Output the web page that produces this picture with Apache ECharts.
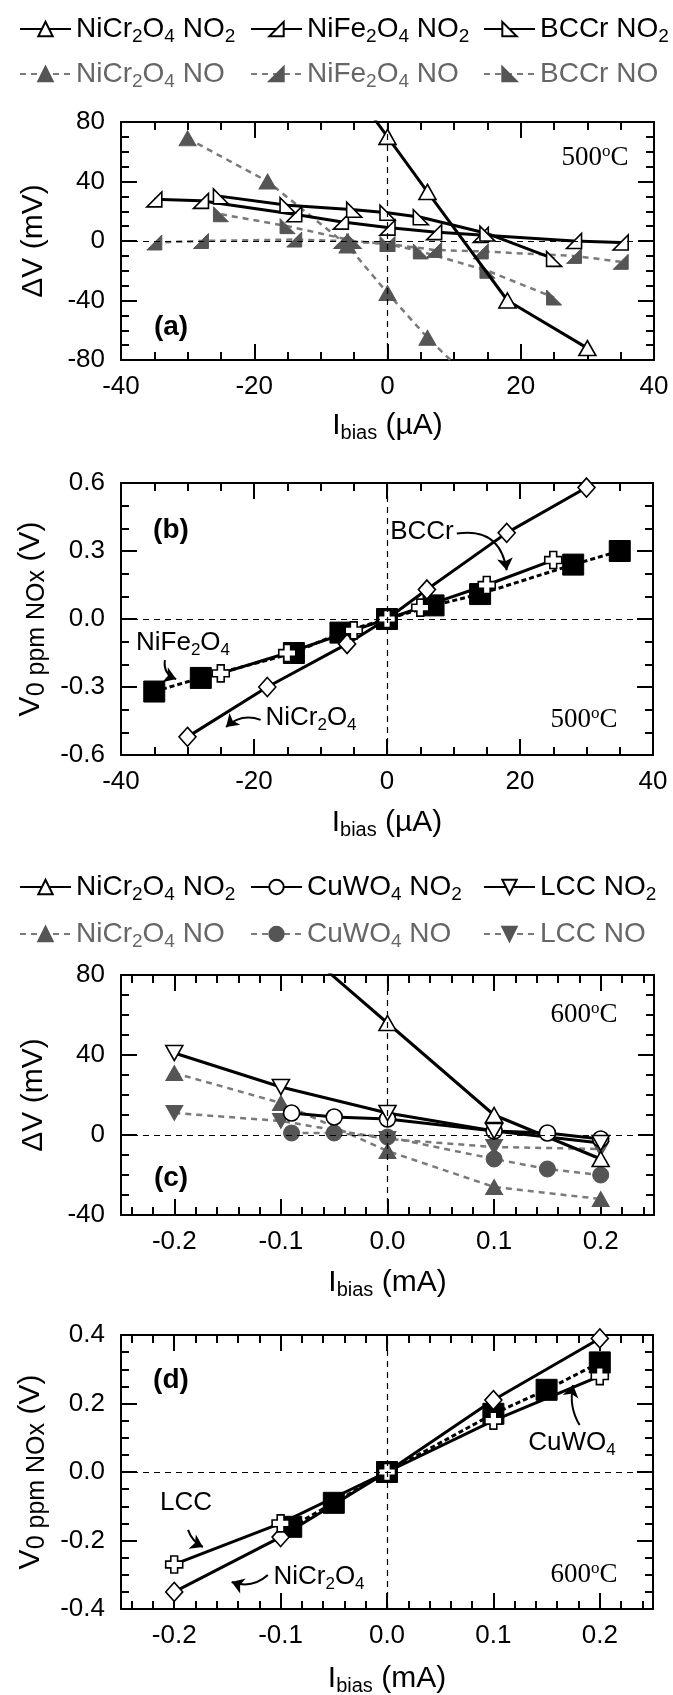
<!DOCTYPE html>
<html>
<head>
<meta charset="utf-8">
<script src="https://cdn.jsdelivr.net/npm/echarts@6/dist/echarts.min.js"></script>
<style>
  html, body { margin: 0; padding: 0; background: #fff; }
  #chart { width: 673px; height: 1695px; }
</style>
</head>
<body>
<div id="chart"></div>
<script>
// (a) 500 oC, delta V (mV) vs Ibias (uA)
const aNiCrNO2X = [-6, 0, 6, 18, 30];
const aNiCrNO2 = [107, 70, 33, -40, -72];
const aNiCrNOX = [-30, -18, -6, 0, 6, 18];
const aNiCrNO = [69, 40, -3, -35, -65, -117];
const aNiFeX = [-35, -28, -14, -7, 0, 7, 14, 28, 35];
const aNiFeNO2 = [28, 27, 18, 13, 9, 6, 4, 0, -1];
const aNiFeNO = [-1, 0, 1, 0, -2, -6, -7, -10, -14];
const aBCCrX = [-25, -15, -5, 0, 5, 15, 25];
const aBCCrNO2 = [30, 24, 21, 19, 16, 5, -12];
const aBCCrNO = [18, 10, 0, -2, -7, -20, -38];

// (b) 500 oC, V at 0 ppm NOx (V)
const bNiCrX = [-30, -18, -6, 0, 6, 18, 30];
const bNiCr = [-0.52, -0.30, -0.11, 0, 0.13, 0.38, 0.58];
const bNiFe = [-0.32, -0.26, -0.15, -0.06, 0, 0.06, 0.11, 0.24, 0.30];
const bBCCr = [-0.24, -0.15, -0.05, 0, 0.05, 0.15, 0.26];

// (c) 600 oC, delta V (mV) vs Ibias (mA)
const cNiCrNO2X = [-0.1, 0, 0.1, 0.2];
const cNiCrNO2 = [102, 56, 10, -12];
const cNiCrNOX = [-0.2, -0.1, 0, 0.1, 0.2];
const cNiCrNO = [31, 16, -8, -26, -32];
const cCuX = [-0.09, -0.05, 0, 0.1, 0.15, 0.2];
const cCuNO2 = [11, 9, 8, 2, 1, -2];
const cCuNO = [1, 1, -1, -12, -17, -20];
const cLCCX = [-0.2, -0.1, 0, 0.1, 0.2];
const cLCCNO2 = [41, 24, 11, 2, -4];
const cLCCNO = [11, 7, -2, -6, -7];

// (d) 600 oC, V at 0 ppm NOx (V)
const dNiCrX = [-0.2, -0.1, 0, 0.1, 0.2];
const dNiCr = [-0.35, -0.19, 0, 0.21, 0.39];
const dCu = [-0.16, -0.09, 0, 0.17, 0.24, 0.32];
const dLCC = [-0.27, -0.15, 0, 0.15, 0.28];

// tick labels
const uATicks = [-40, -20, 0, 20, 40];
const mATicks = [-0.2, -0.1, 0, 0.1, 0.2];
const mVTicksA = [-80, -40, 0, 40, 80];
const voltTicksB = [-0.6, -0.3, 0, 0.3, 0.6];
const mVTicksC = [-40, 0, 40, 80];
const voltTicksD = [-0.4, -0.2, 0, 0.2, 0.4];

const FONT = 'Liberation Sans';
const SERIF = 'Liberation Serif';
const TRI_R = 'path://M10,0L10,10L0,10Z';
const TRI_L = 'path://M0,0L0,10L10,10Z';
const TRI_D = 'path://M0,0L10,0L5,9Z';
const CROSS = 'path://M3,0H7V3H10V7H7V10H3V7H0V3H3Z';

function steps(from, to, step) {
  const out = [];
  for (let v = from; v <= to + step / 2; v += step) out.push(Math.round(v * 1e6) / 1e6);
  return out;
}

// panel frames: grid box, axis ranges and tick positions
const panels = [
  {grid: {left: 121, top: 122, width: 533, height: 238}, x: [-40, 40], y: [-80, 80],
    xMajor: uATicks, xMinor: steps(-40, 40, 5), yMajor: mVTicksA, yMinor: steps(-80, 80, 10)},
  {grid: {left: 121, top: 483, width: 532, height: 272}, x: [-40, 40], y: [-0.6, 0.6],
    xMajor: uATicks, xMinor: steps(-40, 40, 5), yMajor: voltTicksB, yMinor: steps(-0.6, 0.6, 0.1)},
  {grid: {left: 121, top: 975, width: 533, height: 240}, x: [-0.25, 0.25], y: [-40, 80],
    xMajor: mATicks, xMinor: steps(-0.24, 0.24, 0.02), yMajor: mVTicksC, yMinor: steps(-40, 80, 10)},
  {grid: {left: 121, top: 1335, width: 532, height: 274}, x: [-0.25, 0.25], y: [-0.4, 0.4],
    xMajor: mATicks, xMinor: steps(-0.24, 0.24, 0.02), yMajor: voltTicksD, yMinor: steps(-0.4, 0.4, 0.05)},
];

const frameLine = () => ({color: '#000', width: 2});
const nameStyle = () => ({
  fontSize: 30, fontFamily: FONT, color: '#000',
  rich: {
    s: {fontSize: 20, fontFamily: FONT, color: '#000', padding: [15, 0, 0, 0]},
    b: {fontSize: 25, fontFamily: FONT, color: '#000', padding: [12, 0, 0, 0]},
  },
});

function axis(grid, pos, range) {
  return {
    type: 'value', gridIndex: grid, position: pos, min: range[0], max: range[1],
    splitLine: {show: false},
    axisLine: {show: true, onZero: false, lineStyle: frameLine()},
    axisTick: {show: false},
    axisLabel: {show: false},
  };
}
function axes(dim, grid, labels, fmt, name, gap) {
  const [near, far] = dim === 'x' ? ['bottom', 'top'] : ['left', 'right'];
  const range = panels[grid][dim];
  const main = axis(grid, near, range);
  main.axisLabel = {customValues: labels.slice(), formatter: fmt, margin: dim === 'x' ? 14 : 16,
    fontSize: 26, fontFamily: FONT, color: '#000'};
  Object.assign(main, {name: name, nameLocation: 'middle', nameGap: gap, nameTextStyle: nameStyle()});
  return [main, axis(grid, far, range)];
}

// inward tick marks on all four sides, drawn as short segments
function frameTicks(i) {
  const p = panels[i];
  const [x0, x1] = p.x, [y0, y1] = p.y;
  const dx = px => px * (x1 - x0) / p.grid.width;
  const dy = px => px * (y1 - y0) / p.grid.height;
  const segs = [];
  const xt = (v, len) => {
    segs.push([[v, y0], [v, y0 + dy(len)]], [[v, y1], [v, y1 - dy(len)]]);
  };
  const yt = (v, len) => {
    segs.push([[x0, v], [x0 + dx(len), v]], [[x1, v], [x1 - dx(len), v]]);
  };
  p.xMinor.forEach(v => xt(v, 8));
  p.xMajor.forEach(v => xt(v, 16));
  p.yMinor.forEach(v => yt(v, 8));
  p.yMajor.forEach(v => yt(v, 16));
  return {
    type: 'lines', coordinateSystem: 'cartesian2d', xAxisIndex: i * 2, yAxisIndex: i * 2,
    silent: true, z: 1, symbol: ['none', 'none'],
    lineStyle: {color: '#000', width: 2, opacity: 1, type: 'solid', curveness: 0},
    data: segs.map(s => ({coords: s})),
  };
}

const plain = v => String(v);
const oneDec = v => v.toFixed(1);
const uAName = 'I{s|bias} (µA)';
const mAName = 'I{s|bias} (mA)';
const dVName = 'ΔV (mV)';
const v0Name = 'V{b|0 ppm NOx} (V)';

const black = () => ({
  lineStyle: {color: '#000', width: 3},
  itemStyle: {color: '#fff', borderColor: '#000', borderWidth: 1.6}, z: 4,
});
const blackDash = () => ({
  lineStyle: {color: '#000', width: 3, type: [5, 3]},
  itemStyle: {color: '#000', borderColor: '#000', borderWidth: 1}, z: 3,
});
const gray = () => ({
  lineStyle: {color: '#7a7a7a', width: 2.5, type: [6, 5]},
  itemStyle: {color: '#555', borderColor: '#555', borderWidth: 1}, z: 2,
});

const zeroLines = () => ({
  silent: true, symbol: ['none', 'none'], label: {show: false},
  lineStyle: {color: '#000', width: 1.2, type: [6, 5]},
  data: [{yAxis: 0}, {xAxis: 0}],
});

function line(name, grid, xs, ys, style, extra) {
  return Object.assign({
    type: 'line', name: name, xAxisIndex: grid * 2, yAxisIndex: grid * 2, clip: true,
    data: xs.map((x, i) => [x, ys[i]]),
  }, style(), extra);
}

// curved pointer arrows for the labels in (b) and (d): [from, to, curveness]
const bArrows = [
  [[10.5, 0.377], [18, 0.215], 0.5],
  [[-33.4, -0.181], [-31.7, -0.265], -0.4],
  [[-19, -0.445], [-24.2, -0.476], -0.3],
];
const dArrows = [
  [[-0.187, -0.169], [-0.173, -0.219], -0.2],
  [[-0.112, -0.301], [-0.146, -0.321], 0.3],
  [[0.181, 0.137], [0.175, 0.254], 0.2],
];
function arrows(grid, list) {
  return {
    type: 'lines', coordinateSystem: 'cartesian2d', xAxisIndex: grid * 2, yAxisIndex: grid * 2,
    silent: true, z: 6, symbol: ['none', 'arrow'], symbolSize: 12,
    lineStyle: {color: '#000', width: 2, opacity: 1, type: 'solid'},
    data: list.map(a => ({coords: [a[0], a[1]], lineStyle: {curveness: a[2]}})),
  };
}

const sub = n => n.replace(/(\d)/g, '{s|$1}');
function legendItem(name, left, top, color) {
  return {
    data: [name], left: left, top: top, padding: 0, itemWidth: 51, itemHeight: 18,
    selectedMode: false, formatter: sub,
    textStyle: {fontSize: 28, fontFamily: FONT, color: color,
      rich: {s: {fontSize: 19, fontFamily: FONT, color: color, padding: [16, 0, 0, 0]}}},
  };
}
function legendRow(names, center, color) {
  return names.map((n, i) => legendItem(n, [19, 250, 483][i], center - 17, color));
}

function text(str, x, y, style) {
  return {
    type: 'text', x: x, y: y, z: 10,
    style: Object.assign({
      text: str, fill: '#000', fontSize: 26, fontFamily: FONT,
      align: 'center', verticalAlign: 'middle', textAlign: 'center', textVerticalAlign: 'middle',
      rich: {
        s: {fontSize: 17, fontFamily: FONT, padding: [14, 0, 0, 0]},
        o: {fontSize: 17, fontFamily: SERIF, padding: [0, 0, 12, 0]},
      },
    }, style),
  };
}
const bold = {fontSize: 28, fontWeight: 'bold'};
const serif = {fontSize: 27, fontFamily: SERIF};

const option = {
  animation: false,
  backgroundColor: '#fff',
  grid: panels.map(p => ({...p.grid, outerBoundsMode: 'none'})),
  xAxis: [
    ...axes('x', 0, uATicks, plain, uAName, 48),
    ...axes('x', 1, uATicks, plain, uAName, 50),
    ...axes('x', 2, mATicks, oneDec, mAName, 50),
    ...axes('x', 3, mATicks, oneDec, mAName, 52),
  ],
  yAxis: [
    ...axes('y', 0, mVTicksA, plain, dVName, 72),
    ...axes('y', 1, voltTicksB, oneDec, v0Name, 70),
    ...axes('y', 2, mVTicksC, plain, dVName, 72),
    ...axes('y', 3, voltTicksD, oneDec, v0Name, 70),
  ],
  legend: [
    ...legendRow(['NiCr2O4 NO2', 'NiFe2O4 NO2', 'BCCr NO2'], 32, '#000'),
    ...legendRow(['NiCr2O4 NO', 'NiFe2O4 NO', 'BCCr NO'], 77, '#666'),
    ...legendRow(['NiCr2O4 NO2', 'CuWO4 NO2', 'LCC NO2'], 890, '#000'),
    ...legendRow(['NiCr2O4 NO', 'CuWO4 NO', 'LCC NO'], 937, '#666'),
  ],
  series: [
    frameTicks(0), frameTicks(1), frameTicks(2), frameTicks(3),

    line('NiCr2O4 NO', 0, aNiCrNOX, aNiCrNO, gray, {symbol: 'triangle', symbolSize: [17, 15], markLine: zeroLines()}),
    line('NiFe2O4 NO', 0, aNiFeX, aNiFeNO, gray, {symbol: TRI_R, symbolSize: 15}),
    line('BCCr NO', 0, aBCCrX, aBCCrNO, gray, {symbol: TRI_L, symbolSize: 15}),
    line('NiCr2O4 NO2', 0, aNiCrNO2X, aNiCrNO2, black, {symbol: 'triangle', symbolSize: [17, 15]}),
    line('NiFe2O4 NO2', 0, aNiFeX, aNiFeNO2, black, {symbol: TRI_R, symbolSize: 15}),
    line('BCCr NO2', 0, aBCCrX, aBCCrNO2, black, {symbol: TRI_L, symbolSize: 15}),

    line('NiCr2O4', 1, bNiCrX, bNiCr, black, {symbol: 'diamond', symbolSize: [17, 19], markLine: zeroLines()}),
    line('NiFe2O4', 1, aNiFeX, bNiFe, blackDash, {symbol: 'rect', symbolSize: 21}),
    line('BCCr', 1, aBCCrX, bBCCr, black, {symbol: CROSS, symbolSize: 17}),
    arrows(1, bArrows),

    line('NiCr2O4 NO', 2, cNiCrNOX, cNiCrNO, gray, {symbol: 'triangle', symbolSize: [17, 15], markLine: zeroLines()}),
    line('CuWO4 NO', 2, cCuX, cCuNO, gray, {symbol: 'circle', symbolSize: 16}),
    line('LCC NO', 2, cLCCX, cLCCNO, gray, {symbol: TRI_D, symbolSize: [17, 15]}),
    line('NiCr2O4 NO2', 2, cNiCrNO2X, cNiCrNO2, black, {symbol: 'triangle', symbolSize: [17, 15]}),
    line('CuWO4 NO2', 2, cCuX, cCuNO2, black, {symbol: 'circle', symbolSize: 16}),
    line('LCC NO2', 2, cLCCX, cLCCNO2, black, {symbol: TRI_D, symbolSize: [17, 15]}),

    line('NiCr2O4', 3, dNiCrX, dNiCr, black, {symbol: 'diamond', symbolSize: [17, 19], markLine: zeroLines()}),
    line('CuWO4', 3, cCuX, dCu, blackDash, {symbol: 'rect', symbolSize: 21}),
    line('LCC', 3, cLCCX, dLCC, black, {symbol: CROSS, symbolSize: 17}),
    arrows(3, dArrows),
  ],
  graphic: [
    text('(a)', 171, 327, bold),
    text('(b)', 171, 530, bold),
    text('(c)', 171, 1178, bold),
    text('(d)', 171, 1380, bold),
    text('500{o|o}C', 595, 158, serif),
    text('500{o|o}C', 584, 720, serif),
    text('600{o|o}C', 584, 1015, serif),
    text('600{o|o}C', 584, 1575, serif),
    text('BCCr', 422, 532),
    text('NiFe{s|2}O{s|4}', 183, 643),
    text('NiCr{s|2}O{s|4}', 311, 718),
    text('LCC', 186, 1503),
    text('NiCr{s|2}O{s|4}', 319, 1577),
    text('CuWO{s|4}', 572, 1443),
  ],
};

const chart = echarts.init(document.getElementById('chart'));
chart.setOption(option);
</script>
</body>
</html>
